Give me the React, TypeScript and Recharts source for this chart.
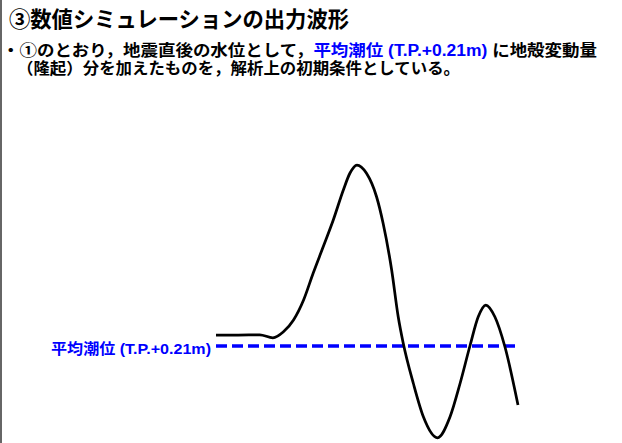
import React from 'react';
import { LineChart, Line, XAxis, YAxis } from 'recharts';

// Time since earthquake (minutes) and water level (m, T.P.)
const timeMin = [0, 4.4, 8.7, 11.3, 13.4, 15.4, 17.4, 19.3, 21.3, 23.3, 25.3, 26.6, 28.0, 29.9, 31.9, 33.2, 34.9, 36.2, 37.2, 39.2, 41.2, 44.0, 46.5, 48.5, 50.5, 52.1, 53.6, 55.4, 57.4, 60.0];
const waterLevel = [0.65, 0.65, 0.66, 0.54, 0.78, 1.25, 2.05, 3.12, 4.18, 5.25, 6.45, 7.12, 7.45, 7.12, 6.18, 5.12, 3.25, 1.38, 0.32, -1.28, -2.62, -3.46, -2.62, -1.28, 0.25, 1.38, 1.85, 1.38, 0.18, -2.15];
const tideTime = [0, 59.6];
const meanTide = 0.21;

const titleText = '③数値シミュレーションの出力波形';
const line1a = '・①のとおり，地震直後の水位として，';
const line1b = '平均潮位 (T.P.+0.21m)';
const line1c = ' に地殻変動量';
const line2 = '（隆起）分を加えたものを，解析上の初期条件としている。';
const tideLabel = '平均潮位 (T.P.+0.21m)';

const waveData = timeMin.map((t, i) => ({ t, v: waterLevel[i] }));
const tideData = tideTime.map((t) => ({ t, v: meanTide }));

const FONT = "'Noto Sans CJK JP', 'Noto Sans', sans-serif";
const BODY_FONT = "'Liberation Sans', 'Noto Sans CJK JP', sans-serif";
const BLUE = '#0000FF';

export default function App() {
  return (
    <div style={{ position: 'absolute', left: 0, top: 0, width: 622, height: 443, background: '#fff' }}>
      <LineChart width={622} height={443} margin={{ top: 151.25, right: 104, bottom: 1.75, left: 216 }}>
        <XAxis type="number" dataKey="t" domain={[0, 60]} hide />
        <YAxis type="number" domain={[-3.6, 8]} hide />
        <Line data={tideData} dataKey="v" type="linear" stroke={BLUE} strokeWidth={3.5} strokeDasharray="11 5" dot={false} isAnimationActive={false} />
        <Line data={waveData} dataKey="v" type="monotone" stroke="#000" strokeWidth={2.75} dot={false} isAnimationActive={false} />
      </LineChart>
      <svg width={622} height={443} style={{ position: 'absolute', left: 0, top: 0, pointerEvents: 'none' }}>
        <rect x={0} y={0} width={2} height={443} fill="#666" />
        <text x={9} y={26.5} fontFamily={FONT} fontWeight="bold" fontSize={22} fill="#000" textLength={340} lengthAdjust="spacingAndGlyphs">{titleText}</text>
        <text x={2} y={55.8} fontFamily={BODY_FONT} fontWeight="bold" fontSize={16} fill="#000" textLength={595} lengthAdjust="spacingAndGlyphs">
          <tspan>{line1a}</tspan>
          <tspan fill={BLUE}>{line1b}</tspan>
          <tspan>{line1c}</tspan>
        </text>
        <text x={17} y={74} fontFamily={BODY_FONT} fontWeight="bold" fontSize={16} fill="#000" textLength={443} lengthAdjust="spacingAndGlyphs">{line2}</text>
        <text x={51} y={353.5} fontFamily={BODY_FONT} fontWeight="bold" fontSize={15} fill={BLUE} textLength={160} lengthAdjust="spacingAndGlyphs">{tideLabel}</text>
      </svg>
    </div>
  );
}
